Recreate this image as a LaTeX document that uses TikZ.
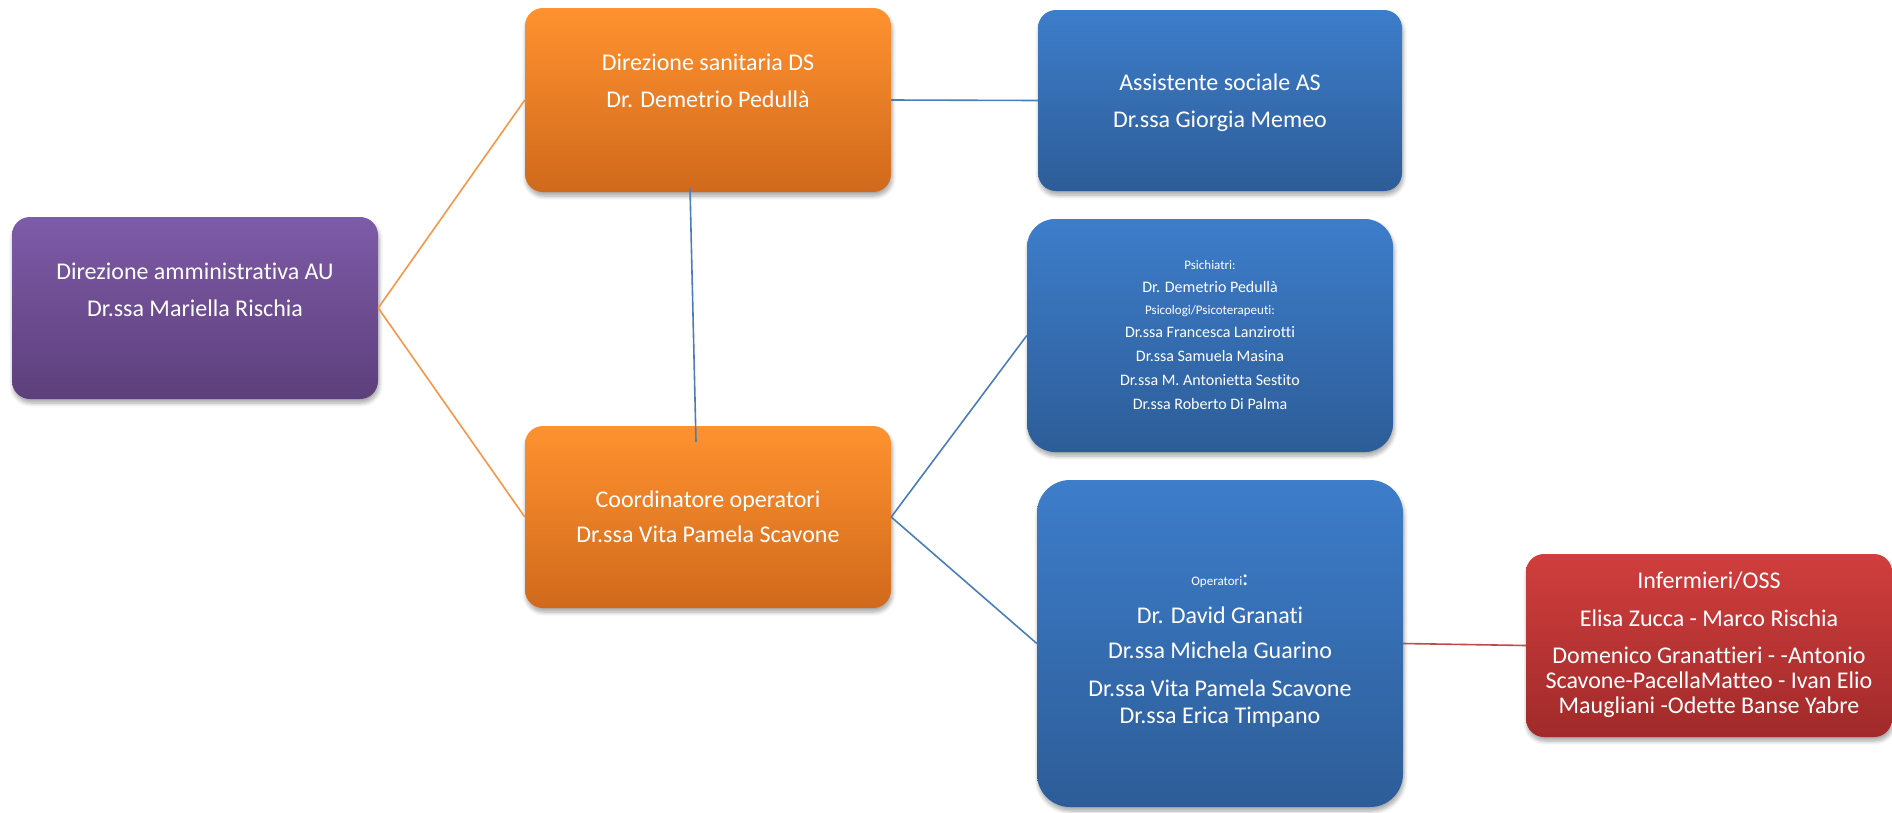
\documentclass[tikz,border=0pt]{standalone}
\usepackage{fontspec}
\setmainfont{Carlito}[Ligatures={NoCommon}]
\usetikzlibrary{shadows.blur}
\definecolor{orT}{HTML}{FF922F}
\definecolor{orB}{HTML}{D0691C}
\definecolor{blT}{HTML}{3D7DCA}
\definecolor{blB}{HTML}{2D5D98}
\definecolor{puT}{HTML}{7E5BA8}
\definecolor{puB}{HTML}{5D3F7B}
\definecolor{rdT}{HTML}{D03E3D}
\definecolor{rdB}{HTML}{A12A2A}
\definecolor{lnOr}{HTML}{F79646}
\definecolor{lnBl}{HTML}{4A7EBB}
\definecolor{lnRd}{HTML}{BE4B48}
\tikzset{
  boxbase/.style={rectangle, inner sep=0pt, rounded corners=18pt,
    blur shadow={shadow xshift=1pt, shadow yshift=-4pt, shadow blur steps=6, shadow blur radius=4pt, shadow opacity=35}},
  purplebox/.style={boxbase, top color=puT, bottom color=puB},
  orangebox/.style={boxbase, top color=orT, bottom color=orB},
  bluebox/.style={boxbase, top color=blT, bottom color=blB},
  redbox/.style={boxbase, top color=rdT, bottom color=rdB},
  txt/.style={anchor=base, inner sep=0pt, text=white, font=\fontsize{24}{29}\selectfont},
  txtm/.style={txt, font=\fontsize{16}{19}\selectfont},
  txts/.style={txt, font=\fontsize{13}{16}\selectfont},
  conn/.style={line width=1.6pt}
}
\begin{document}
\begin{tikzpicture}[x=1pt,y=-1pt]
\useasboundingbox (0,0) rectangle (1892,812);
% boxes
\node[purplebox, minimum width=366pt, minimum height=182pt] (au) at (195,308) {};
\node[orangebox, minimum width=366pt, minimum height=184pt] (ds) at (708,100) {};
\node[orangebox, minimum width=366pt, minimum height=182pt] (co) at (708,517) {};
\node[bluebox, minimum width=364pt, minimum height=181pt] (as) at (1220,100.5) {};
\node[bluebox, rounded corners=28pt, minimum width=366pt, minimum height=233pt] (ps) at (1210,335.5) {};
\node[bluebox, rounded corners=33pt, minimum width=366pt, minimum height=327pt] (op) at (1220,643.5) {};
\node[redbox, minimum width=366pt, minimum height=183pt] (rd) at (1709,645.5) {};
% texts
\node[txt] (au1) at (195,279) {Direzione amministrativa AU};
\node[txt] (au2) at (195,316) {Dr.ssa Mariella Rischia};
\node[txt] (ds1) at (708,70) {Direzione sanitaria DS};
\node[txt] (ds2) at (708,107) {Dr. Demetrio Pedullà};
\node[txt] (co1) at (708,507) {Coordinatore operatori};
\node[txt] (co2) at (708,542) {Dr.ssa Vita Pamela Scavone};
\node[txt] (as1) at (1220,90) {Assistente sociale AS};
\node[txt] (as2) at (1220,127) {Dr.ssa Giorgia Memeo};
\node[txts] (ps1) at (1210,269) {Psichiatri:};
\node[txtm] (ps2) at (1210,292) {Dr. Demetrio Pedullà};
\node[txts] (ps3) at (1210,314) {Psicologi/Psicoterapeuti:};
\node[txtm] (ps4) at (1210,337) {Dr.ssa Francesca Lanzirotti};
\node[txtm] (ps5) at (1210,361) {Dr.ssa Samuela Masina};
\node[txtm] (ps6) at (1210,385) {Dr.ssa M. Antonietta Sestito};
\node[txtm] (ps7) at (1210,409) {Dr.ssa Roberto Di Palma};
\node[txt] (op1) at (1220,585) {{\fontsize{13}{16}\selectfont Operatori}:};
\node[txt] (op2) at (1220,623) {Dr. David Granati};
\node[txt] (op3) at (1220,658) {Dr.ssa Michela Guarino};
\node[txt] (op4) at (1220,696) {Dr.ssa Vita Pamela Scavone};
\node[txt] (op5) at (1220,723) {Dr.ssa Erica Timpano};
\node[txt] (rd1) at (1709,588) {Infermieri/OSS};
\node[txt] (rd2) at (1709,626) {Elisa Zucca - Marco Rischia};
\node[txt] (rd3) at (1709,663) {Domenico Granattieri - -Antonio};
\node[txt] (rd4) at (1709,688) {Scavone-PacellaMatteo - Ivan Elio};
\node[txt] (rd5) at (1709,713) {Maugliani -Odette Banse Yabre};
% connectors
\coordinate (v1) at (690,188);
\coordinate (v2) at (696,442);
\draw[conn, lnOr] (au.east) -- (ds.west);
\draw[conn, lnOr] (au.east) -- (co.west);
\draw[conn, lnBl] (ds.east) -- (as.west);
\draw[conn, lnBl] (v1) -- (v2);
\draw[conn, lnBl] (co.east) -- (ps.west);
\draw[conn, lnBl] (co.east) -- (op.west);
\draw[conn, lnRd] (op.east) -- (rd.west);
\end{tikzpicture}
\end{document}
